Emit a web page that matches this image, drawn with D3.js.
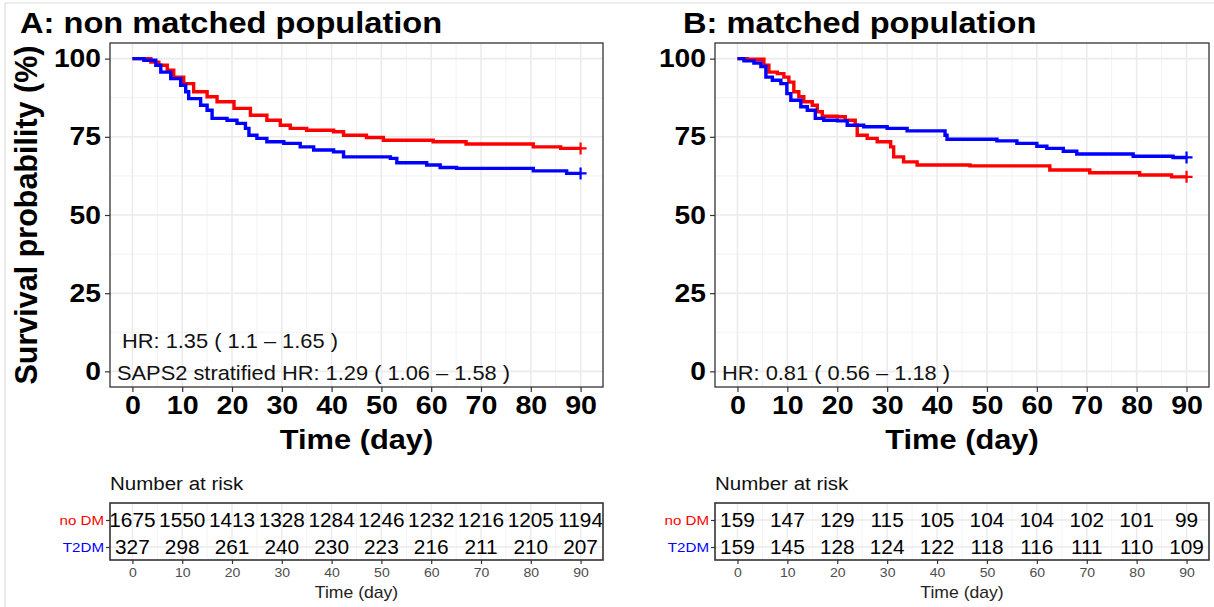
<!DOCTYPE html>
<html><head><meta charset="utf-8">
<script src="https://cdn.jsdelivr.net/npm/d3@7"></script>
<style>body{margin:0;background:#fff}svg{display:block;font-family:"Liberation Sans",Arial,sans-serif}</style>
</head><body><svg id="c" width="1214" height="607"></svg>
<script>
// ---- data ----
const timeTicks = [0,10,20,30,40,50,60,70,80,90];
const yTicks = [0,25,50,75,100];
const strata = ["no DM","T2DM"];
const strataColors = ["#ff0000","#0000ff"];

// Panel A (non matched) KM steps: [time, survival %]
const aNoDM = [[0,100],[3.7,98.9],[5.3,97.9],[7,96.3],[8.3,94.1],[10.3,92],[12.3,89.4],[15,87.8],[17,86.2],[20.4,84.1],[23.7,81.9],[27,80.3],[29.7,78.7],[31.7,77.7],[35,77.1],[40.4,76.6],[42.4,75.5],[47,74.8],[50.4,73.9],[60.4,73.4],[67,72.7],[80.5,71.8],[86,71.3],[90,71.3]];
const aT2DM = [[0,100],[2.3,99.5],[4.7,97.9],[5.7,95.7],[7.7,93.6],[9.7,91.5],[10.7,89.4],[11.3,87.2],[13.7,85.1],[15,83.5],[16,80.9],[19,80.3],[21,79.3],[22.7,77.7],[23.4,75.5],[25,74.5],[27,73.4],[30.4,72.9],[33.7,71.8],[36.4,70.8],[40.4,70.2],[42.4,68.6],[51.8,68.1],[53.1,66.7],[59.1,66],[61.8,65.2],[65.1,64.9],[80.5,64.1],[87.2,63.3],[90,63.3]];
// Panel B (matched)
const bNoDM = [[0,100],[2,99.8],[5.3,97.9],[6.3,95.7],[8,95.2],[9.3,94.1],[10.3,92.5],[11.3,89.4],[12.3,87.8],[13.3,86.2],[15,85.1],[16,83],[17,81.6],[20,81.4],[21.6,80.3],[23.6,78.7],[24,75.5],[26,74.5],[28,73.4],[30.7,71.8],[31.3,68.6],[33.3,67],[36,66],[46.6,65.7],[62.6,64.4],[70.6,63.5],[80.6,62.8],[87,62.2],[90,62.2]];
const bT2DM = [[0,100],[1.3,99.3],[3.3,98.6],[4.7,97.5],[5.7,94.1],[7,93.1],[8.7,92],[9.9,88.8],[10.7,86.7],[12.7,84.6],[14,83.5],[15.6,80.9],[17.3,80.3],[20,80.1],[22,78.7],[25.3,78.2],[30,77.7],[34,76.9],[41.6,75.5],[42,74.2],[52,73.7],[56,72.9],[60,72],[62,71.3],[65.3,70.4],[68,69.5],[79.3,68.8],[87.3,68.4],[90,68.4]];

const aRiskNoDM = [1675,1550,1413,1328,1284,1246,1232,1216,1205,1194];
const aRiskT2DM = [327,298,261,240,230,223,216,211,210,207];
const bRiskNoDM = [159,147,129,115,105,104,104,102,101,99];
const bRiskT2DM = [159,145,128,124,122,118,116,111,110,109];

const panels = [
  {title:"A: non matched population", tx:20, x0:110, x1:603, curves:[aNoDM,aT2DM], risk:[aRiskNoDM,aRiskT2DM],
   hr:["HR: 1.35 ( 1.1 \u2013 1.65 )","SAPS2 stratified HR: 1.29 ( 1.06 \u2013 1.58 )"], hrX:[122,117], ylab:true},
  {title:"B: matched population", tx:683, x0:715, x1:1209, curves:[bNoDM,bT2DM], risk:[bRiskNoDM,bRiskT2DM],
   hr:["HR: 0.81 ( 0.56 \u2013 1.18 )"], hrX:[722], ylab:false}
];

const svg = d3.select("#c");
const plotTop = 43, plotBot = 387;
const tabTop = 503, tabBot = 560;
const FF = "Liberation Sans, Arial, sans-serif";

// faint outer frame
svg.append("path").attr("d","M5,607V3H1214").attr("fill","none").attr("stroke","#dcdcdc").attr("stroke-width",1.2);

function txt(g, x, y, s, size, sx, opts={}) {
  const t = g.append("text").attr("transform",`translate(${x},${y}) scale(${sx},1)`)
    .attr("font-size",size).attr("font-family",FF).text(s);
  if (opts.bold) t.attr("font-weight","bold");
  if (opts.anchor) t.attr("text-anchor",opts.anchor);
  if (opts.fill) t.attr("fill",opts.fill);
  if (opts.dy) t.attr("dy",opts.dy);
  return t;
}
function styleTicks(axG, size, sx, bold, fill) {
  axG.select(".domain").remove();
  axG.selectAll("line").attr("stroke","#333").attr("stroke-width",1.2);
  axG.selectAll("text").each(function(){
    const t = d3.select(this);
    const xx = +t.attr("x") || 0;
    t.attr("transform",`translate(${xx},0) scale(${sx},1)`).attr("x",0);
  }).attr("font-size",size).attr("font-weight",bold?"bold":"normal").attr("fill",fill).attr("font-family",FF);
}

panels.forEach(p => {
  const g = svg.append("g");
  const x = d3.scaleLinear().domain([-4.5,94.5]).range([p.x0,p.x1]);
  const y = d3.scaleLinear().domain([-5,105]).range([plotBot,plotTop]);

  txt(g, p.tx, 33, p.title, 30, 1.088, {bold:true});

  // grid
  const minorX = d3.range(5,90,10), minorY = [12.5,37.5,62.5,87.5];
  g.selectAll(".mx").data(minorX).join("line").attr("x1",d=>x(d)).attr("x2",d=>x(d)).attr("y1",plotTop).attr("y2",plotBot).attr("stroke","#f2f2f2").attr("stroke-width",1);
  g.selectAll(".my").data(minorY).join("line").attr("y1",d=>y(d)).attr("y2",d=>y(d)).attr("x1",p.x0).attr("x2",p.x1).attr("stroke","#f2f2f2").attr("stroke-width",1);
  g.selectAll(".gx").data(timeTicks).join("line").attr("x1",d=>x(d)).attr("x2",d=>x(d)).attr("y1",plotTop).attr("y2",plotBot).attr("stroke","#ebebeb").attr("stroke-width",1.6);
  g.selectAll(".gy").data(yTicks).join("line").attr("y1",d=>y(d)).attr("y2",d=>y(d)).attr("x1",p.x0).attr("x2",p.x1).attr("stroke","#ebebeb").attr("stroke-width",1.6);

  // curves
  const line = d3.line().x(d=>x(d[0])).y(d=>y(d[1])).curve(d3.curveStepAfter);
  p.curves.forEach((c,i) => {
    g.append("path").datum(c).attr("d", line).attr("fill","none").attr("stroke", strataColors[i]).attr("stroke-width",3.4);
    const last = c[c.length-1];
    g.append("path").attr("d", `M${x(last[0])-6},${y(last[1])}h12M${x(last[0])},${y(last[1])-6}v12`).attr("stroke", strataColors[i]).attr("stroke-width",2.2);
  });

  // border
  g.append("rect").attr("x",p.x0).attr("y",plotTop).attr("width",p.x1-p.x0).attr("height",plotBot-plotTop).attr("fill","none").attr("stroke","#333").attr("stroke-width",1.3);

  // axes
  const ax = g.append("g").attr("transform",`translate(0,${plotBot})`).call(d3.axisBottom(x).tickValues(timeTicks).tickSize(5).tickPadding(4));
  styleTicks(ax, 26, 1.1, true, "#000");
  const ay = g.append("g").attr("transform",`translate(${p.x0},0)`).call(d3.axisLeft(y).tickValues(yTicks).tickSize(5).tickPadding(4));
  styleTicks(ay, 25, 1.13, true, "#000");

  txt(g, (x(0)+x(90))/2, 449, "Time (day)", 28, 1.1, {bold:true, anchor:"middle"});
  if (p.ylab) {
    g.append("text").attr("transform",`translate(37,${(plotTop+plotBot)/2}) rotate(-90)`).attr("text-anchor","middle")
      .attr("font-size",30.5).attr("font-weight","bold").attr("font-family",FF).text("Survival probability (%)");
  }

  // HR texts
  const hrY = p.hr.length===2 ? [341,373] : [373];
  p.hr.forEach((t,i) => {
    txt(g, p.hrX[i], hrY[i], t, 21, 1.04, {dy:"0.35em", fill:"#111"});
  });

  // risk table
  txt(g, p.x0, 490, "Number at risk", 19, 1.08, {fill:"#111"});
  const ry = d3.scalePoint().domain(strata).range([tabTop+17,tabBot-13]);
  g.selectAll(".rgx").data(timeTicks).join("line").attr("x1",d=>x(d)).attr("x2",d=>x(d)).attr("y1",tabTop).attr("y2",tabBot).attr("stroke","#ebebeb").attr("stroke-width",1.4);
  g.selectAll(".rgx2").data(d3.range(5,90,10)).join("line").attr("x1",d=>x(d)).attr("x2",d=>x(d)).attr("y1",tabTop).attr("y2",tabBot).attr("stroke","#f4f4f4").attr("stroke-width",1);
  g.selectAll(".rgy").data(strata).join("line").attr("y1",d=>ry(d)).attr("y2",d=>ry(d)).attr("x1",p.x0).attr("x2",p.x1).attr("stroke","#ebebeb").attr("stroke-width",1.4);
  strata.forEach((s,i) => {
    g.selectAll(".rv"+i).data(p.risk[i]).join("text")
      .attr("transform",(d,j)=>`translate(${x(timeTicks[j])},${ry(s)}) scale(1.04,1)`)
      .attr("dy","0.36em").attr("text-anchor","middle").attr("font-size",20).attr("font-family",FF).attr("fill","#000").text(d=>d);
  });
  g.append("rect").attr("x",p.x0).attr("y",tabTop).attr("width",p.x1-p.x0).attr("height",tabBot-tabTop).attr("fill","none").attr("stroke","#333").attr("stroke-width",1.6);
  const rax = g.append("g").attr("transform",`translate(0,${tabBot})`).call(d3.axisBottom(x).tickValues(timeTicks).tickSize(4).tickPadding(4));
  styleTicks(rax, 13, 1.08, false, "#4d4d4d");
  const ray = g.append("g").attr("transform",`translate(${p.x0},0)`).call(d3.axisLeft(ry).tickSize(4).tickPadding(2));
  styleTicks(ray, 13.5, 1.12, false, "#000");
  ray.selectAll("text").attr("fill",(d,i)=>strataColors[i]);
  txt(g, (x(0)+x(90))/2, 598, "Time (day)", 16, 1.1, {anchor:"middle", fill:"#222"});
});
</script></body></html>
